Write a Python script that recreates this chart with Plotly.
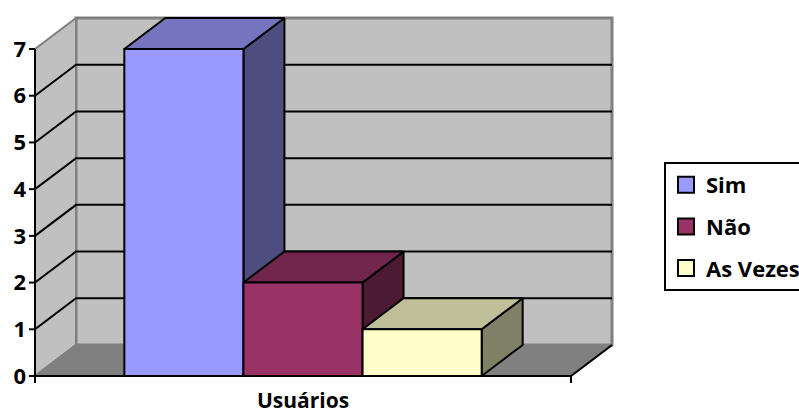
import plotly.graph_objects as go

# ---------------- data ----------------
categories = ["Usuários"]
series_names = ["Sim", "Não", "As Vezes"]
series_values = [7, 2, 1]
y_tick_values = [0, 1, 2, 3, 4, 5, 6, 7]

# ---------------- styles ----------------
front_colors = ["#9999FF", "#993366", "#FFFFCC"]
top_colors = ["#7575BF", "#73264D", "#BFBF99"]
side_colors = ["#4D4D80", "#4D1A33", "#808066"]
WALL = "#C0C0C0"
FLOOR = "#808080"
EDGE = "#808080"
FONT = "Open Sans"

# ---------------- geometry (pixel layout) ----------------
W, H = 799, 416
ML = 28
PX_ORIGIN, PX_END = 35, 571
PY_ZERO, PY_TOP = 376, 49
UNIT_X = PX_END - PX_ORIGIN
Y_MAX = max(y_tick_values)
UNIT_Y = (PY_ZERO - PY_TOP) / Y_MAX
DX = 41 / UNIT_X
DY = 31 / UNIT_Y
GAP = 1 / 3
N = len(series_values)
BW = (1 - GAP) / N
X_START = 0.5 - BW * N / 2

x_range = [(ML - PX_ORIGIN) / UNIT_X, (W - PX_ORIGIN) / UNIT_X]
y_range = [(PY_ZERO - H) / UNIT_Y, PY_ZERO / UNIT_Y]

fig = go.Figure()


def poly(xs, ys, fill, line="black", width=2):
    fig.add_trace(go.Scatter(
        x=list(xs) + [xs[0]], y=list(ys) + [ys[0]], mode="lines", fill="toself",
        fillcolor=fill, line=dict(color=line, width=width),
        hoverinfo="skip", showlegend=False))


def seg(xs, ys, color, width):
    fig.add_trace(go.Scatter(x=xs, y=ys, mode="lines", line=dict(color=color, width=width),
                             hoverinfo="skip", showlegend=False))


# walls and floor
poly([DX, 1 + DX, 1 + DX, DX], [DY, DY, Y_MAX + DY, Y_MAX + DY], WALL, EDGE, 3)
poly([0, DX, DX, 0], [0, DY, Y_MAX + DY, Y_MAX], WALL, EDGE, 2)
poly([0, 1, 1 + DX, DX], [0, 0, DY, DY], FLOOR, EDGE, 2)
seg([1, 1 + DX], [0, DY], "black", 2)

# gridlines on walls
gx, gy = [], []
for k in y_tick_values[1:-1]:
    gx += [0, DX, 1 + DX, None]
    gy += [k, k + DY, k + DY, None]
seg(gx, gy, "black", 2)

# axes lines and tick marks
seg([0, 0], [0, Y_MAX], "black", 2)
seg([0, 1], [0, 0], "black", 2)
tx, ty = [], []
for k in y_tick_values:
    tx += [-6 / UNIT_X, 0, None]
    ty += [k, k, None]
for u in [0, 1]:
    tx += [u, u, None]
    ty += [0, -7 / UNIT_Y, None]
seg(tx, ty, "black", 2)

# 3D bars
for i, (name, v) in enumerate(zip(series_names, series_values)):
    x0 = X_START + i * BW
    x1 = x0 + BW
    poly([x1, x1 + DX, x1 + DX, x1], [0, DY, v + DY, v], side_colors[i])
    poly([x0, x1, x1 + DX, x0 + DX], [v, v, v + DY, v + DY], top_colors[i])
    poly([x0, x1, x1, x0], [0, 0, v, v], front_colors[i])

# legend entries
for i, name in enumerate(series_names):
    fig.add_trace(go.Scatter(
        x=[None], y=[None], mode="markers", name=name, legendgroup=name,
        marker=dict(symbol="square", size=16, color=front_colors[i],
                    line=dict(color="black", width=2))))

fig.add_annotation(x=0.5, y=(PY_ZERO - 415) / UNIT_Y, text="<b>%s</b>" % categories[0],
                   showarrow=False, font=dict(family=FONT, size=21, color="black"),
                   xanchor="center", yanchor="bottom", borderpad=0)

fig.update_layout(
    width=W, height=H,
    margin=dict(l=ML, r=0, t=0, b=0, autoexpand=False),
    paper_bgcolor="white", plot_bgcolor="white",
    xaxis=dict(range=x_range, visible=False, fixedrange=True),
    yaxis=dict(range=y_range, showgrid=False, zeroline=False, showline=False,
               tickvals=y_tick_values, ticktext=["<b>%d</b>" % v for v in y_tick_values],
               tickfont=dict(family=FONT, size=22, color="black"), ticks="",
               ticklabelstandoff=1, fixedrange=True),
    legend=dict(x=(664 - ML) / (W - ML), y=1 - 162 / H, xanchor="left", yanchor="top",
                bordercolor="black", borderwidth=2, bgcolor="white",
                font=dict(family=FONT, size=22, color="black", weight="bold"),
                tracegroupgap=10, itemsizing="trace"),
    showlegend=True,
)

fig.write_html("out.html")
